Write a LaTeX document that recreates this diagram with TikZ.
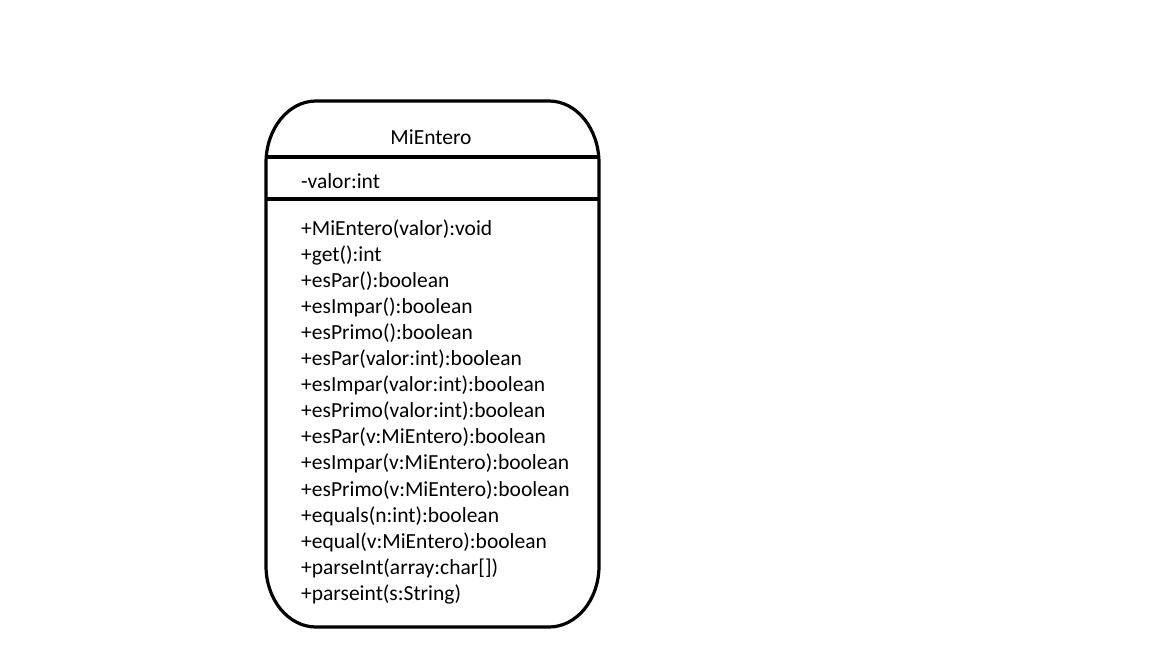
\documentclass[tikz,border=0pt]{standalone}
\usepackage{fontspec}
\setmainfont{Carlito}
\begin{document}
\begin{tikzpicture}[x=1pt,y=-1pt,
    umltext/.style={inner sep=0pt,font=\fontsize{21.5}{26}\selectfont},
    umlline/.style={line width=3.2pt}]
  \useasboundingbox (0,0) rectangle (1152,648);
  % class box
  \draw[umlline]
    (316,101) -- (549,101)
    arc[start angle=270,end angle=360,x radius=50,y radius=62]
    -- (599,566)
    arc[start angle=0,end angle=90,x radius=50,y radius=61]
    -- (316,627)
    arc[start angle=90,end angle=180,x radius=50,y radius=61]
    -- (266,163)
    arc[start angle=180,end angle=270,x radius=50,y radius=62] -- cycle;
  \coordinate (h1) at (266,157);
  \coordinate (h2) at (599,157);
  \coordinate (a1) at (266,199);
  \coordinate (a2) at (599,199);
  \draw[umlline] (h1) -- (h2);
  \draw[umlline] (a1) -- (a2);
  \node[umltext,anchor=base] (title) at (431,144) {MiEntero};
  \node[umltext,anchor=base west] (attr) at (301,188) {-valor:int};
  \foreach \txt [count=\i] in {
      +MiEntero(valor):void,
      +get():int,
      +esPar():boolean,
      +esImpar():boolean,
      +esPrimo():boolean,
      +esPar(valor:int):boolean,
      +esImpar(valor:int):boolean,
      +esPrimo(valor:int):boolean,
      +esPar(v:MiEntero):boolean,
      +esImpar(v:MiEntero):boolean,
      +esPrimo(v:MiEntero):boolean,
      +equals(n:int):boolean,
      +equal(v:MiEntero):boolean,
      +parseInt(array:char[]),
      +parseint(s:String)}
    \node[umltext,anchor=base west] (m\i) at (301,{235+(\i-1)*26.1}) {\txt};
\end{tikzpicture}
\end{document}
